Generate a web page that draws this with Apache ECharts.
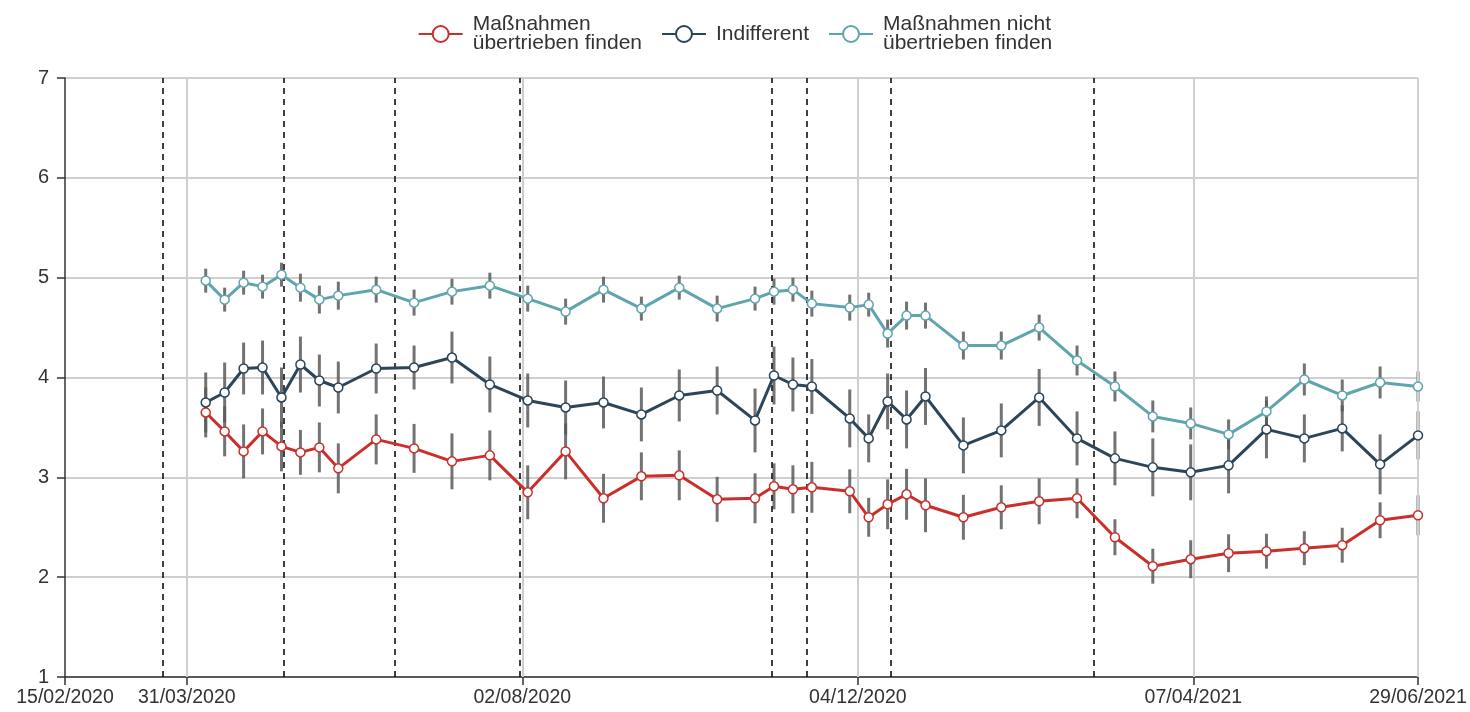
<!DOCTYPE html>
<html>
<head>
<meta charset="utf-8">
<script src="https://cdn.jsdelivr.net/npm/echarts@6/dist/echarts.min.js"></script>
<style>
  html, body { margin: 0; padding: 0; background: #fff; }
  #chart { width: 1470px; height: 712px; }
</style>
</head>
<body>
<div id="chart"></div>
<script>
// Weekly survey waves (Tuesdays)
const surveyDates = [
  '2020-04-07','2020-04-14','2020-04-21','2020-04-28','2020-05-05','2020-05-12','2020-05-19','2020-05-26',
  '2020-06-09','2020-06-23','2020-07-07','2020-07-21','2020-08-04','2020-08-18','2020-09-01','2020-09-15',
  '2020-09-29','2020-10-13','2020-10-27','2020-11-03','2020-11-10','2020-11-17','2020-12-01','2020-12-08',
  '2020-12-15','2020-12-22','2020-12-29','2021-01-12','2021-01-26','2021-02-09','2021-02-23','2021-03-09',
  '2021-03-23','2021-04-06','2021-04-20','2021-05-04','2021-05-18','2021-06-01','2021-06-15','2021-06-29'
];

const seriesNames = ['Maßnahmen\nübertrieben finden', 'Indifferent', 'Maßnahmen nicht\nübertrieben finden'];

// Group means
const overdoneMean = [
  3.65, 3.46, 3.26, 3.46, 3.31, 3.25, 3.30, 3.09, 3.38, 3.29, 3.16, 3.22, 2.85, 3.26, 2.79, 3.01,
  3.02, 2.78, 2.79, 2.91, 2.88, 2.90, 2.86, 2.60, 2.73, 2.83, 2.72, 2.60, 2.70, 2.76, 2.79, 2.40,
  2.11, 2.18, 2.24, 2.26, 2.29, 2.32, 2.57, 2.62
];
const indifferentMean = [
  3.75, 3.85, 4.09, 4.10, 3.80, 4.13, 3.97, 3.90, 4.09, 4.10, 4.20, 3.93, 3.77, 3.70, 3.75, 3.63,
  3.82, 3.87, 3.57, 4.02, 3.93, 3.91, 3.59, 3.39, 3.76, 3.58, 3.81, 3.32, 3.47, 3.80, 3.39, 3.19,
  3.10, 3.05, 3.12, 3.48, 3.39, 3.49, 3.13, 3.42
];
const notOverdoneMean = [
  4.97, 4.78, 4.95, 4.91, 5.03, 4.90, 4.78, 4.82, 4.88, 4.75, 4.86, 4.92, 4.79, 4.66, 4.88, 4.69,
  4.90, 4.69, 4.79, 4.86, 4.88, 4.74, 4.70, 4.73, 4.44, 4.62, 4.62, 4.32, 4.32, 4.50, 4.17, 3.91,
  3.61, 3.54, 3.43, 3.66, 3.98, 3.82, 3.95, 3.91
];

// Half-widths of the confidence intervals
const overdoneCI = [
  0.25, 0.25, 0.27, 0.23, 0.25, 0.225, 0.25, 0.25, 0.25, 0.245, 0.28, 0.25, 0.27, 0.28, 0.245, 0.24,
  0.25, 0.225, 0.25, 0.23, 0.24, 0.255, 0.22, 0.195, 0.25, 0.255, 0.27, 0.225, 0.22, 0.23, 0.20, 0.18,
  0.175, 0.19, 0.19, 0.175, 0.17, 0.175, 0.18, 0.20
];
const indifferentCI = [
  0.30, 0.30, 0.26, 0.27, 0.30, 0.28, 0.26, 0.26, 0.25, 0.22, 0.26, 0.28, 0.27, 0.27, 0.26, 0.27,
  0.26, 0.24, 0.32, 0.29, 0.27, 0.275, 0.29, 0.24, 0.28, 0.29, 0.285, 0.28, 0.27, 0.285, 0.27, 0.27,
  0.29, 0.28, 0.28, 0.29, 0.24, 0.23, 0.30, 0.24
];
const notOverdoneCI = [
  0.12, 0.12, 0.12, 0.12, 0.12, 0.14, 0.14, 0.14, 0.13, 0.13, 0.13, 0.13, 0.13, 0.13, 0.13, 0.12,
  0.12, 0.13, 0.12, 0.13, 0.12, 0.13, 0.13, 0.12, 0.14, 0.14, 0.13, 0.14, 0.14, 0.13, 0.15, 0.15,
  0.16, 0.16, 0.15, 0.15, 0.16, 0.16, 0.16, 0.15
];

// X-axis tick labels
const xTickLabels = ['15/02/2020', '31/03/2020', '02/08/2020', '04/12/2020', '07/04/2021', '29/06/2021'];

// Dates of policy events (dashed markers)
const eventDates = ['2020-03-22', '2020-05-06', '2020-06-16', '2020-08-01', '2020-11-02', '2020-11-15', '2020-12-16', '2021-03-01'];

const COLORS = ['#c9302c', '#2c4558', '#5fa5ad'];
const FONT = "'Liberation Sans', Arial, Helvetica, sans-serif";

function isoToTs(s) {
  const [y, m, d] = s.split('-').map(Number);
  return Date.UTC(y, m - 1, d);
}
function labelToTs(s) {
  const [d, m, y] = s.split('/').map(Number);
  return Date.UTC(y, m - 1, d);
}
function fmt(ts) {
  const dt = new Date(ts);
  const p = n => String(n).padStart(2, '0');
  return p(dt.getUTCDate()) + '/' + p(dt.getUTCMonth() + 1) + '/' + dt.getUTCFullYear();
}

const xTicks = xTickLabels.map(labelToTs);
const xs = surveyDates.map(isoToTs);

function lineSeries(idx, means) {
  return {
    name: seriesNames[idx],
    type: 'line',
    data: xs.map((x, i) => [x, means[i]]),
    symbol: 'circle',
    symbolSize: 9,
    showSymbol: true,
    color: COLORS[idx],
    lineStyle: { color: COLORS[idx], width: 3 },
    itemStyle: { color: '#fff', borderColor: COLORS[idx], borderWidth: 1.5 },
    z: 5,
    silent: true,
    animation: false
  };
}

function errorBars(means, ci) {
  return {
    type: 'custom',
    data: xs.map((x, i) => [x, means[i] - ci[i], means[i] + ci[i]]),
    encode: { x: 0, y: [1, 2] },
    renderItem: (params, api) => {
      const x = api.value(0);
      const lo = api.coord([x, api.value(1)]);
      const hi = api.coord([x, api.value(2)]);
      return {
        type: 'line',
        shape: { x1: lo[0], y1: lo[1], x2: hi[0], y2: hi[1] },
        style: { stroke: '#5a5a5a', lineWidth: 3, opacity: 0.85 }
      };
    },
    z: 3,
    silent: true,
    animation: false
  };
}

const chart = echarts.init(document.getElementById('chart'));
chart.setOption({
  animation: false,
  textStyle: { fontFamily: FONT },
  legend: {
    data: seriesNames,
    top: 9,
    left: 'center',
    itemWidth: 44,
    itemHeight: 20,
    itemGap: 19,
    lineStyle: { width: 2 },
    itemStyle: { borderWidth: 2 },
    textStyle: { fontSize: 21, lineHeight: 19, color: '#333', fontFamily: FONT, padding: [0, 0, 0, 5] }
  },
  grid: { left: 65, right: 52, top: 78, bottom: 35, containLabel: false },
  xAxis: {
    type: 'value',
    min: xTicks[0],
    max: xTicks[xTicks.length - 1],
    axisLine: { onZero: false, lineStyle: { color: '#333', width: 1.5 } },
    axisTick: { show: true, length: 8, customValues: xTicks, lineStyle: { color: '#333', width: 1.5 } },
    axisLabel: {
      customValues: xTicks,
      formatter: v => fmt(v),
      fontSize: 19.5,
      color: '#333',
      margin: 11,
      showMinLabel: true,
      showMaxLabel: true,
      hideOverlap: false
    },
    splitLine: { show: false }
  },
  yAxis: {
    type: 'value',
    min: 1,
    max: 7,
    interval: 1,
    axisLine: { show: true, lineStyle: { color: '#333', width: 1.5 } },
    axisTick: { show: true, length: 8, lineStyle: { color: '#333', width: 1.5 } },
    axisLabel: { fontSize: 20, color: '#333', margin: 16 },
    splitLine: { show: true, lineStyle: { color: '#cfcfcf', width: 2 } }
  },
  series: [
    // vertical grid lines at the labelled dates
    {
      type: 'line',
      data: [],
      silent: true,
      z: 1,
      markLine: {
        silent: true,
        symbol: ['none', 'none'],
        label: { show: false },
        animation: false,
        lineStyle: { color: '#cfcfcf', width: 2, type: 'solid' },
        data: xTicks.slice(1).map(t => ({ xAxis: t }))
      }
    },
    // dashed event markers
    {
      type: 'line',
      data: [],
      silent: true,
      z: 2,
      markLine: {
        silent: true,
        symbol: ['none', 'none'],
        label: { show: false },
        animation: false,
        lineStyle: { color: '#111', width: 1.6, type: [6, 5] },
        data: eventDates.map(d => ({ xAxis: isoToTs(d) }))
      }
    },
    errorBars(overdoneMean, overdoneCI),
    errorBars(indifferentMean, indifferentCI),
    errorBars(notOverdoneMean, notOverdoneCI),
    lineSeries(0, overdoneMean),
    lineSeries(1, indifferentMean),
    lineSeries(2, notOverdoneMean)
  ]
});
</script>
</body>
</html>
